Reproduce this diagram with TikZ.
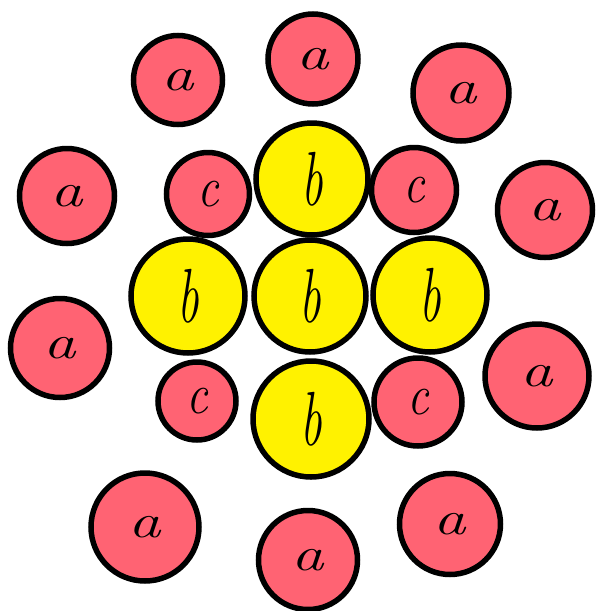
\documentclass[tikz,border=0pt]{standalone}
\definecolor{redfill}{RGB}{255,99,115}
\definecolor{yelfill}{RGB}{255,242,0}
\tikzset{
  ball/.style={circle, draw=black, line width=5.5pt, inner sep=0pt, minimum size=#1},
  aball/.style={ball=#1, fill=redfill},
  cball/.style={ball=#1, fill=redfill},
  bball/.style={ball=#1, fill=yelfill},
  lab/.style={font=\fontsize{48}{48}\selectfont\itshape, text=black}
}
\begin{document}
\begin{tikzpicture}[x=1pt,y=-1pt]
\useasboundingbox (0,0) rectangle (596,611);
% yellow b balls
\node[bball=112pt] (bt) at (312,179) {};
\node[bball=114pt] (bl) at (188,296) {};
\node[bball=112pt] (bc) at (310,296) {};
\node[bball=114pt] (br) at (430,295) {};
\node[bball=116pt] (bb) at (311,419) {};
% c balls
\node[cball=83pt] (c1) at (208,194) {};
\node[cball=85pt] (c2) at (414,190) {};
\node[cball=78pt] (c3) at (197,401) {};
\node[cball=88pt] (c4) at (418,402) {};
% a balls
\node[aball=89pt] (a1) at (178,80) {};
\node[aball=90pt] (a2) at (313,59) {};
\node[aball=96pt] (a3) at (461,93) {};
\node[aball=95pt] (a4) at (67,196) {};
\node[aball=95pt] (a5) at (545,210) {};
\node[aball=99pt] (a6) at (60,348) {};
\node[aball=104pt] (a7) at (537,376) {};
\node[aball=108pt] (a8) at (145,527) {};
\node[aball=101pt] (a9) at (450,524) {};
\node[aball=99pt] (a10) at (308,560) {};
% labels
\foreach \n in {a1,a2,a3,a4,a5,a6,a7,a8,a9,a10}{
  \node[lab, xscale=1.35] at (\n) {a};
}
\foreach \n in {c1,c2,c3,c4}{
  \node[lab, yscale=1.2] at (\n) {c};
}
\foreach \n in {bt,bl,bc,br,bb}{
  \node[lab, yscale=1.6] at (\n) {b};
}
\end{tikzpicture}
\end{document}
